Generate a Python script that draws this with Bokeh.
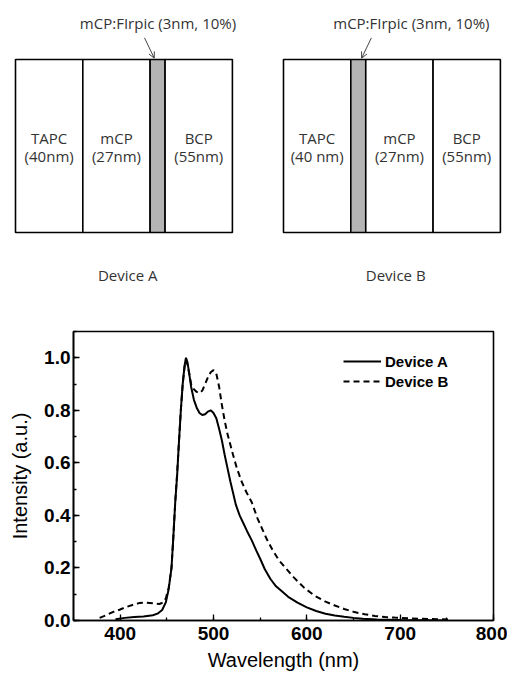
from bokeh.plotting import figure
from bokeh.layouts import column
from bokeh.models import (Range1d, SingleIntervalTicker, PrintfTickFormatter,
                          Legend, LegendItem, Arrow, OpenHead)
from bokeh.core.properties import value
from bokeh.embed import file_html
from bokeh.resources import INLINE

# ---------------- spectrum data ----------------
wl_a = [395, 405, 415, 425, 435, 440, 445, 449, 452, 455, 457, 459, 461, 463, 465,
        467, 469, 470.5, 472, 474, 476, 479, 482, 485, 488, 491, 494, 497, 500, 503,
        506, 509, 512, 515, 518, 521, 524, 528, 532, 536, 541, 546, 550, 555, 561,
        567, 572, 580, 590, 600, 610, 620, 630, 640, 650, 660, 675, 700, 725, 750]
int_a = [0.005, 0.010, 0.013, 0.015, 0.020, 0.026, 0.040, 0.070, 0.120, 0.20, 0.32,
         0.45, 0.55, 0.68, 0.80, 0.90, 0.97, 1.0, 0.985, 0.94, 0.89, 0.84, 0.81, 0.79,
         0.782, 0.785, 0.795, 0.80, 0.79, 0.77, 0.73, 0.685, 0.63, 0.58, 0.53, 0.485,
         0.44, 0.40, 0.37, 0.34, 0.305, 0.265, 0.235, 0.195, 0.158, 0.13, 0.115, 0.09,
         0.068, 0.05, 0.036, 0.026, 0.019, 0.014, 0.010, 0.007, 0.004, 0.002, 0.001, 0.0]

wl_b = [378, 385, 392, 400, 407, 414, 421, 428, 435, 442, 446, 449, 452, 455, 457,
        459, 461, 463, 465, 467, 469, 470.5, 472, 474, 476, 479, 482, 485, 488, 491,
        494, 497, 500, 503, 506, 509, 512, 515, 518, 521, 525, 530, 535, 541, 547,
        552, 557, 563, 570, 576, 586, 597, 608, 620, 630, 640, 651, 662, 673, 684,
        694, 710, 730, 752]
int_b = [0.01, 0.02, 0.032, 0.042, 0.052, 0.06, 0.067, 0.068, 0.066, 0.063, 0.068,
         0.085, 0.125, 0.20, 0.32, 0.45, 0.56, 0.68, 0.80, 0.90, 0.965, 0.99, 0.975,
         0.94, 0.90, 0.88, 0.87, 0.865, 0.875, 0.90, 0.925, 0.945, 0.953, 0.94, 0.89,
         0.82, 0.76, 0.71, 0.67, 0.63, 0.58, 0.53, 0.49, 0.45, 0.39, 0.35, 0.31, 0.27,
         0.23, 0.205, 0.164, 0.125, 0.095, 0.072, 0.057, 0.044, 0.032, 0.024, 0.017,
         0.013, 0.011, 0.008, 0.006, 0.004]

series_names = ["Device A", "Device B"]
x_title = "Wavelength (nm)"
y_title = "Intensity (a.u.)"

# ---------------- device structures ----------------
devices = ["Device A", "Device B"]
device_layers = [["TAPC", "mCP", "EML", "BCP"],
                 ["TAPC", "EML", "mCP", "BCP"]]
device_thick = [["(40nm)", "(27nm)", "", "(55nm)"],
                ["(40 nm)", "", "(27nm)", "(55nm)"]]
eml_label = "mCP:FIrpic (3nm, 10%)"

# ---------------- diagram figure ----------------
TXT = "#333333"
FONT = "Open Sans"
top = figure(width=507, height=284, x_range=Range1d(-2.005, 65.78),
             y_range=Range1d(-0.3006, 1.341), output_backend="svg",
             toolbar_location=None, x_axis_location=None, y_axis_location=None,
             min_border=0, outline_line_color=None)
top.xgrid.visible = False
top.ygrid.visible = False
top.frame_align = False

dev_offsets = [0.0, 35.83]
label_dx = [0.05, 7.1]
arrow_dir = [-1, 1]
for d, name in enumerate(devices):
    x0 = dev_offsets[d]
    lefts, rights, fills, texts = [], [], [], []
    cur = x0
    eml_center = None
    for li, lay in enumerate(device_layers[d]):
        w = 2 if lay == "EML" else 9
        lefts.append(cur)
        rights.append(cur + w)
        fills.append("#b4b4b4" if lay == "EML" else "white")
        if lay == "EML":
            eml_center = cur + w / 2
        else:
            texts.append((cur + w / 2, lay, device_thick[d][li]))
        cur += w
    top.quad(left=lefts, right=rights, bottom=[0] * len(lefts), top=[1] * len(lefts),
             fill_color=fills, line_color="black", line_width=1.6)
    for cx, lay, th in texts:
        top.text(x=[cx], y=[0.549], text=[lay], text_align="center",
                 text_baseline="middle", text_font=value(FONT),
                 text_font_size="15px", text_color=TXT)
        top.text(x=[cx], y=[0.445], text=[th], text_align="center",
                 text_baseline="middle", text_font=value(FONT),
                 text_font_size="15px", text_color=TXT)
    # EML label and arrow
    top.text(x=[eml_center + label_dx[d]], y=[1.21], text=[eml_label], text_align="center",
             text_baseline="middle", text_font=value(FONT), text_font_size="15px",
             text_color=TXT)
    s = arrow_dir[d]
    top.add_layout(Arrow(x_start=eml_center + s * 1.75, y_start=1.125,
                         x_end=eml_center + s * 0.45, y_end=1.008,
                         line_color="#444444", line_width=1,
                         end=OpenHead(size=6, line_color="#444444", line_width=1)))
    top.text(x=[x0 + 14.5 + 0.5], y=[-0.243], text=[name], text_align="center",
             text_baseline="middle", text_font=value(FONT), text_font_size="15px",
             text_color=TXT)

# ---------------- spectrum figure ----------------
p = figure(width=507, height=389, x_range=Range1d(350, 800), y_range=Range1d(0, 1.1),
           output_backend="svg", toolbar_location=None,
           min_border_left=73, min_border_right=14, min_border_top=47,
           min_border_bottom=51)
p.frame_align = False
p.xgrid.visible = False
p.ygrid.visible = False
p.outline_line_color = "black"
p.outline_line_width = 1.6

ra = p.line(wl_a, int_a, line_color="black", line_width=2)
rb = p.line(wl_b, int_b, line_color="black", line_width=2, line_dash="6 4")

p.xaxis.ticker = SingleIntervalTicker(interval=100, num_minor_ticks=2)
p.yaxis.ticker = SingleIntervalTicker(interval=0.2, num_minor_ticks=2)
p.yaxis.formatter = PrintfTickFormatter(format="%.1f")
for ax in (p.xaxis[0], p.yaxis[0]):
    ax.axis_line_width = 1.6
    ax.axis_line_color = "black"
    ax.major_tick_in = 6
    ax.major_tick_out = 0
    ax.minor_tick_in = 3
    ax.minor_tick_out = 0
    ax.major_tick_line_width = 1.3
    ax.minor_tick_line_width = 1.3
    ax.major_label_text_font = "Liberation Sans"
    ax.major_label_text_font_size = "19px"
    ax.major_label_text_font_style = "bold"
    ax.major_label_text_color = "black"
    ax.axis_label_text_font = "Liberation Sans"
    ax.axis_label_text_font_size = "20px"
    ax.axis_label_text_font_style = "normal"
    ax.axis_label_text_color = "black"
p.xaxis.axis_label = x_title
p.yaxis.axis_label = y_title
p.xaxis.major_label_standoff = 6
p.xaxis.axis_label_standoff = 6
p.yaxis.major_label_standoff = 3
p.yaxis.axis_label_standoff = 10

legend = Legend(items=[LegendItem(label=series_names[0], renderers=[ra]),
                       LegendItem(label=series_names[1], renderers=[rb])],
                location=(270, 229), glyph_width=38, glyph_height=20, label_height=20,
                spacing=0, padding=0, margin=0, label_standoff=4,
                border_line_alpha=0, background_fill_alpha=0,
                label_text_font="Liberation Sans", label_text_font_size="15px",
                label_text_font_style="bold", label_text_color="black")
p.add_layout(legend)

layout = column(top, p)
open("out.html", "w").write(file_html(layout, INLINE))
